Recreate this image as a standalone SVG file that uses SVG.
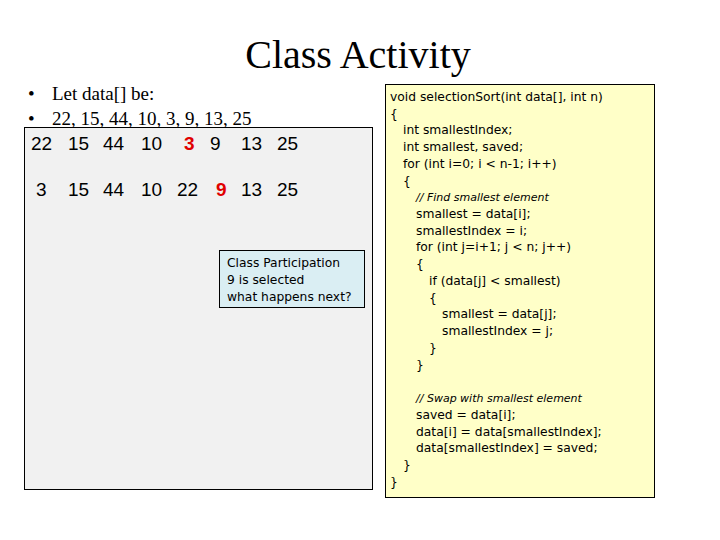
<svg xmlns="http://www.w3.org/2000/svg" width="720" height="540" viewBox="0 0 720 540">
<style>
.t{font-family:"Liberation Serif",serif;font-size:19px;fill:#000}
.n{font-family:"Liberation Sans",Arial,sans-serif;font-size:19px;fill:#000}
.r{fill:#e00000;font-weight:bold}
.c{font-family:"Comic Sans MS","DejaVu Sans",sans-serif;font-size:12.3px;fill:#000}
.ci{font-style:italic;font-size:11px}
</style>
<rect width="720" height="540" fill="#fff"/>
<text x="358" y="68" text-anchor="middle" style="font-family:'Liberation Serif',serif;font-size:40px">Class Activity</text>
<text class="t" x="28" y="100">•</text><text class="t" x="52" y="100">Let data[] be:</text>
<text class="t" x="28" y="125">•</text><text class="t" x="52" y="125">22, 15, 44, 10, 3, 9, 13, 25</text>
<g id="array-box">
<rect x="24.5" y="127.5" width="348" height="362" fill="#f1f1f1" stroke="#000"/>
<text class="n" y="150"><tspan x="31">22</tspan><tspan x="68">15</tspan><tspan x="103">44</tspan><tspan x="141">10</tspan><tspan x="184" class="r">3</tspan><tspan x="210">9</tspan><tspan x="241">13</tspan><tspan x="277">25</tspan></text>
<text class="n" y="196"><tspan x="36">3</tspan><tspan x="68">15</tspan><tspan x="103">44</tspan><tspan x="141">10</tspan><tspan x="177">22</tspan><tspan x="216" class="r">9</tspan><tspan x="241">13</tspan><tspan x="277">25</tspan></text>
</g>
<g id="participation">
<rect x="219.5" y="250.5" width="145" height="57" fill="#daeef3" stroke="#000"/>
<text class="c" x="227" y="267">Class Participation</text>
<text class="c" x="227" y="284">9 is selected</text>
<text class="c" x="227" y="301">what happens next?</text>
</g>
<g id="code">
<rect x="385.5" y="84.5" width="269" height="413" fill="#ffffc8" stroke="#000"/>
<text class="c" x="390" y="101">void selectionSort(int data[], int n)</text>
<text class="c" x="390" y="118">{</text>
<text class="c" x="403" y="134">int smallestIndex;</text>
<text class="c" x="403" y="151">int smallest, saved;</text>
<text class="c" x="403" y="168">for (int i=0; i &lt; n-1; i++)</text>
<text class="c" x="403" y="185">{</text>
<text class="c ci" x="416" y="201">// Find smallest element</text>
<text class="c" x="416" y="218">smallest = data[i];</text>
<text class="c" x="416" y="235">smallestIndex = i;</text>
<text class="c" x="416" y="251">for (int j=i+1; j &lt; n; j++)</text>
<text class="c" x="416" y="268">{</text>
<text class="c" x="429" y="285">if (data[j] &lt; smallest)</text>
<text class="c" x="429" y="302">{</text>
<text class="c" x="442" y="318">smallest = data[j];</text>
<text class="c" x="442" y="335">smallestIndex = j;</text>
<text class="c" x="429" y="352">}</text>
<text class="c" x="416" y="369">}</text>
<text class="c ci" x="416" y="402">// Swap with smallest element</text>
<text class="c" x="416" y="419">saved = data[i];</text>
<text class="c" x="416" y="436">data[i] = data[smallestIndex];</text>
<text class="c" x="416" y="452">data[smallestIndex] = saved;</text>
<text class="c" x="403" y="469">}</text>
<text class="c" x="390" y="486">}</text>
</g>
</svg>
